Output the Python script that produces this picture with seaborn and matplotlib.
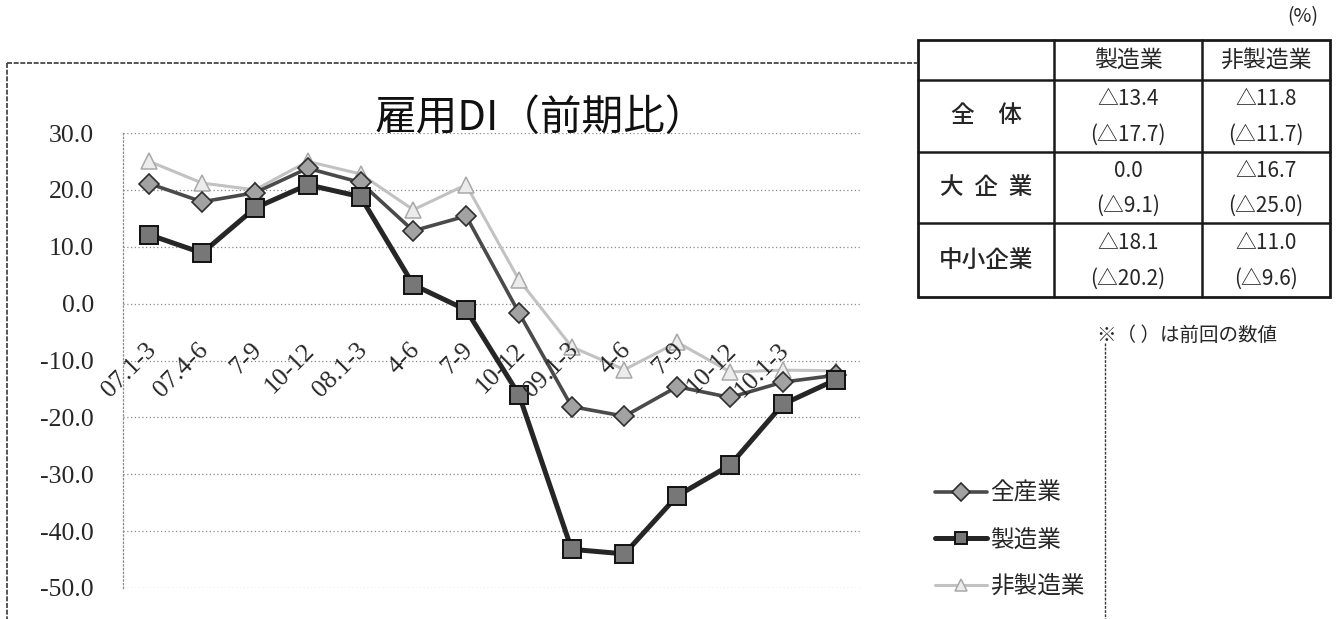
import numpy as np
import pandas as pd
import matplotlib
matplotlib.use("Agg")
import matplotlib.pyplot as plt
import seaborn as sns

# ---- data -------------------------------------------------------------
periods = ["07.1-3", "07.4-6", "07.7-9", "07.10-12", "08.1-3", "08.4-6", "08.7-9",
           "08.10-12", "09.1-3", "09.4-6", "09.7-9", "09.10-12", "10.1-3", "10.4-6"]
tick_labels = ["07.1-3", "07.4-6", "7-9", "10-12", "08.1-3", "4-6", "7-9",
               "10-12", "09.1-3", "4-6", "7-9", "10-12", "10.1-3", ""]
all_industry = [21.1, 17.9, 19.5, 23.8, 21.3, 12.8, 15.4, -1.6, -18.1, -19.8,
                -14.6, -16.5, -13.8, -12.6]
manufacturing = [12.1, 8.9, 16.8, 20.9, 18.8, 3.3, -1.1, -16.0, -43.2, -44.0,
                 -33.8, -28.4, -17.7, -13.4]
non_manufacturing = [25.0, 21.2, 20.0, 25.0, 22.8, 16.5, 20.9, 4.2, -7.6, -11.6,
                     -6.8, -12.0, -11.7, -11.8]
series_names = ["全産業", "製造業", "非製造業"]
y_ticks = [30, 20, 10, 0, -10, -20, -30, -40, -50]

table_cols = ["製造業", "非製造業"]
table_rows = ["全　体", "大  企  業", "中小企業"]
table_current = [[-13.4, -11.8], [0.0, -16.7], [-18.1, -11.0]]
table_previous = [[-17.7, -11.7], [-9.1, -25.0], [-20.2, -9.6]]

# ---- style ------------------------------------------------------------
sns.set_style("white")
plt.rcParams["font.family"] = ["Liberation Serif", "Noto Sans CJK JP"]
plt.rcParams["axes.unicode_minus"] = False
CJK = ["Noto Sans CJK JP", "DejaVu Sans"]

W, H = 1343, 619
fig = plt.figure(figsize=(W / 100, H / 100), dpi=100)
fig.patch.set_facecolor("white")

def fx(px):
    return px / W

def fy(py):
    return 1 - py / H

ax = fig.add_axes([fx(123), fy(588), fx(862) - fx(123), fy(133) - fy(588)])
ax.set_facecolor("white")

df = pd.DataFrame({
    "period": periods,
    "pos": np.arange(len(periods)),
    series_names[0]: all_industry,
    series_names[1]: manufacturing,
    series_names[2]: non_manufacturing,
})

styles = {
    "全産業": dict(color="#4a4a4a", marker="D", markersize=10.5,
                 markerfacecolor="#a2a2a2", markeredgecolor="#2e2e2e",
                 markeredgewidth=1.2, linewidth=2.6, zorder=3),
    "製造業": dict(color="#262626", marker="s", markersize=13,
                 markerfacecolor="#777777", markeredgecolor="#111111",
                 markeredgewidth=1.4, linewidth=3.6, zorder=4),
    "非製造業": dict(color="#c2c2c2", marker="^", markersize=12,
                  markerfacecolor="#ececec", markeredgecolor="#a8a8a8",
                  markeredgewidth=1.1, linewidth=2.2, zorder=2),
}

for name in series_names:
    sns.lineplot(data=df, x="pos", y=name, ax=ax, label=name, sort=False,
                 errorbar=None, **styles[name])

ax.set_xlim(-0.5, len(periods) - 0.5)
ax.set_ylim(-50, 30)
ax.set_xlabel("")
ax.set_ylabel("")
ax.set_xticks([])
ax.set_yticks(y_ticks)
ax.set_yticklabels([f"{v:.1f}" for v in y_ticks])
ax.tick_params(axis="y", length=0, pad=21, labelsize=18.5)
for lbl in ax.get_yticklabels():
    lbl.set_family("Liberation Serif")

ax.yaxis.grid(True, linestyle=(0, (1, 2)), color="#8a8a8a", linewidth=0.9)
ax.xaxis.grid(False)
for side in ("top", "right", "bottom"):
    ax.spines[side].set_visible(False)
ax.spines["left"].set_linestyle((0, (1, 2)))
ax.spines["left"].set_color("#8a8a8a")
ax.spines["left"].set_linewidth(0.9)

# period labels, rotated, sitting just under the zero line
for i, lab in enumerate(tick_labels):
    ax.text(i + 0.06, -7.6, lab, rotation=45, ha="right", va="center",
            rotation_mode="anchor", fontsize=18.5, family="Liberation Serif",
            zorder=5)

# legend at the lower right of the chart frame
handles, labels = ax.get_legend_handles_labels()
leg = ax.legend(handles, labels, loc="upper left",
                bbox_to_anchor=(fx(935), fy(482)), bbox_transform=fig.transFigure,
                frameon=False, borderpad=0, borderaxespad=0, handlelength=2.2,
                handletextpad=0.15, labelspacing=1.0,
                prop={"family": CJK, "size": 17})
for h in leg.legend_handles:
    h.set_markersize(9)

# ---- overlay: frame, title, table, note --------------------------------
ov = fig.add_axes([0, 0, 1, 1], zorder=5)
ov.set_xlim(0, W)
ov.set_ylim(H, 0)
ov.axis("off")
ov.patch.set_alpha(0)

frame_kw = dict(color="#3a3a3a", linewidth=1.2, linestyle=(0, (3, 1)))
ov.plot([7, 7], [63, H], **frame_kw)
ov.plot([7, 918], [63, 63], **frame_kw)
ov.plot([1105, 1105], [343, H], color="#3a3a3a", linewidth=1.0,
        linestyle=(0, (2, 1)))

ov.text(541, 118, "雇用DI（前期比）", ha="center", va="center",
        fontsize=30, family=CJK, color="#111111")

# summary table
col_edges = [918, 1054, 1202, 1330]
row_edges = [40, 80, 152, 223, 297]
ov.add_patch(plt.Rectangle((col_edges[0], row_edges[0]),
                           col_edges[-1] - col_edges[0],
                           row_edges[-1] - row_edges[0],
                           facecolor="white", edgecolor="#1a1a1a", linewidth=2.0))
for x in col_edges[1:-1]:
    ov.plot([x, x], [row_edges[0], row_edges[-1]], color="#1a1a1a", linewidth=1.8)
for y in row_edges[1:-1]:
    ov.plot([col_edges[0], col_edges[-1]], [y, y], color="#1a1a1a", linewidth=1.8)

def fmt(v):
    return f"△{abs(v):.1f}" if v < 0 else f"{v:.1f}"

for j, name in enumerate(table_cols):
    cx = (col_edges[j + 1] + col_edges[j + 2]) / 2
    ov.text(cx, (row_edges[0] + row_edges[1]) / 2, name, ha="center",
            va="center", fontsize=16.5, family=CJK)
for i, name in enumerate(table_rows):
    top, bot = row_edges[i + 1], row_edges[i + 2]
    ov.text((col_edges[0] + col_edges[1]) / 2, (top + bot) / 2, name,
            ha="center", va="center", fontsize=17, family=CJK,
            fontweight="medium")
    for j in range(len(table_cols)):
        cx = (col_edges[j + 1] + col_edges[j + 2]) / 2
        ov.text(cx, top + (bot - top) * 0.27, fmt(table_current[i][j]),
                ha="center", va="center", fontsize=15, family=CJK)
        ov.text(cx, top + (bot - top) * 0.76, f"({fmt(table_previous[i][j])})",
                ha="center", va="center", fontsize=15, family=CJK)

ov.text(1303, 17, "(%)", ha="center", va="center", fontsize=14, family=CJK)
ov.text(1097, 335, "※（ ）は前回の数値", ha="left", va="center",
        fontsize=14, family=CJK)

fig.savefig("out.png", dpi=100, facecolor="white")
